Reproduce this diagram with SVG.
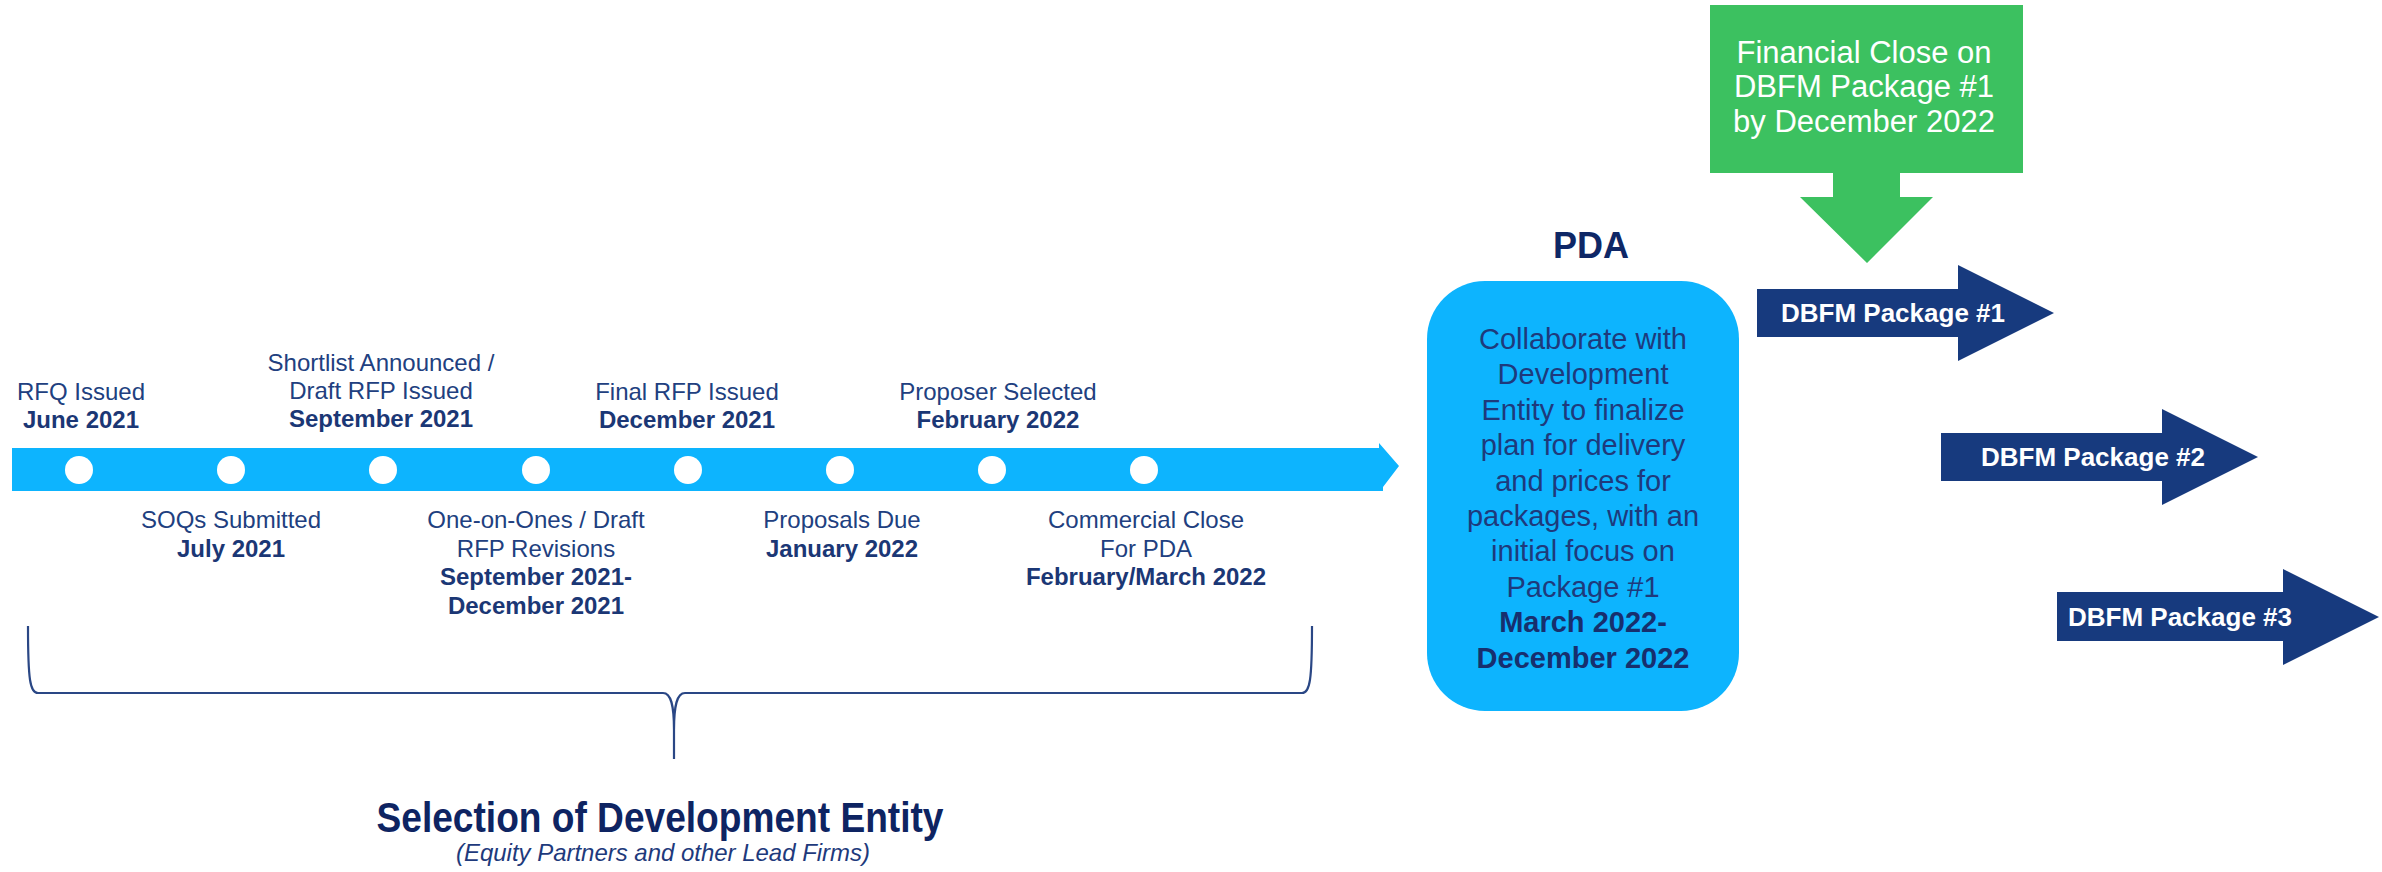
<svg xmlns="http://www.w3.org/2000/svg" width="2382" height="872" viewBox="0 0 2382 872">
<style>
text{font-family:"Liberation Sans",Arial,sans-serif}
.t{font-size:24px;fill:#213F80;text-anchor:middle}
.b{font-size:24px;font-weight:bold;fill:#1B3775;text-anchor:middle}
.p{font-size:29px;fill:#1E3A7C;text-anchor:middle}
.pb{font-size:29px;font-weight:bold;fill:#172F6E;text-anchor:middle}
.w{font-size:31px;fill:#FFFFFF;text-anchor:middle}
.wb{font-size:26px;font-weight:bold;fill:#FFFFFF;text-anchor:middle}
.dot{fill:#FFFFFF}
.arr{fill:#173A7E}
</style>
<rect width="2382" height="872" fill="#FFFFFF"/>
<g id="timeline">
<polygon points="12,448 1379,448 1379,443 1399,466 1383,487 1383,491 12,491" fill="#0DB4FE"/>
<circle class="dot" cx="79" cy="470" r="14"/>
<circle class="dot" cx="231" cy="470" r="14"/>
<circle class="dot" cx="383" cy="470" r="14"/>
<circle class="dot" cx="536" cy="470" r="14"/>
<circle class="dot" cx="688" cy="470" r="14"/>
<circle class="dot" cx="840" cy="470" r="14"/>
<circle class="dot" cx="992" cy="470" r="14"/>
<circle class="dot" cx="1144" cy="470" r="14"/>
</g>
<g id="rfq-issued"><text class="t" x="81" y="400">RFQ Issued</text><text class="b" x="81" y="428">June 2021</text></g>
<g id="soqs-submitted"><text class="t" x="231" y="528">SOQs Submitted</text><text class="b" x="231" y="557">July 2021</text></g>
<g id="shortlist"><text class="t" x="381" y="371">Shortlist Announced /</text><text class="t" x="381" y="399">Draft RFP Issued</text><text class="b" x="381" y="427">September 2021</text></g>
<g id="one-on-ones"><text class="t" x="536" y="528">One-on-Ones / Draft</text><text class="t" x="536" y="557">RFP Revisions</text><text class="b" x="536" y="585">September 2021-</text><text class="b" x="536" y="614">December 2021</text></g>
<g id="final-rfp"><text class="t" x="687" y="400">Final RFP Issued</text><text class="b" x="687" y="428">December 2021</text></g>
<g id="proposals-due"><text class="t" x="842" y="528">Proposals Due</text><text class="b" x="842" y="557">January 2022</text></g>
<g id="proposer-selected"><text class="t" x="998" y="400">Proposer Selected</text><text class="b" x="998" y="428">February 2022</text></g>
<g id="commercial-close"><text class="t" x="1146" y="528">Commercial Close</text><text class="t" x="1146" y="557">For PDA</text><text class="b" x="1146" y="585">February/March 2022</text></g>
<g id="connectors">
<path d="M28,626 C28,680 30,693 38,693 L663,693 C671,693 674,705 674,730 L674,759 M674,730 C674,705 677,693 685,693 L1302,693 C1310,693 1312,680 1312,626" fill="none" stroke="#2A4785" stroke-width="2.2"/>
</g>
<g id="selection">
<text x="660" y="832" font-size="42" font-weight="bold" fill="#0E2462" text-anchor="middle" textLength="567" lengthAdjust="spacingAndGlyphs">Selection of Development Entity</text>
<text x="663" y="861" font-size="24" font-style="italic" fill="#1E3A7C" text-anchor="middle" textLength="414" lengthAdjust="spacingAndGlyphs">(Equity Partners and other Lead Firms)</text>
</g>
<g id="pda">
<text x="1591" y="258" font-size="36" font-weight="bold" fill="#0E2766" text-anchor="middle">PDA</text>
<rect x="1427" y="281" width="312" height="430" rx="58" fill="#0DB4FE"/>
<text class="p" x="1583" y="349">Collaborate with</text>
<text class="p" x="1583" y="384">Development</text>
<text class="p" x="1583" y="420">Entity to finalize</text>
<text class="p" x="1583" y="455">plan for delivery</text>
<text class="p" x="1583" y="491">and prices for</text>
<text class="p" x="1583" y="526">packages, with an</text>
<text class="p" x="1583" y="561">initial focus on</text>
<text class="p" x="1583" y="597">Package #1</text>
<text class="pb" x="1583" y="632">March 2022-</text>
<text class="pb" x="1583" y="668">December 2022</text>
</g>
<g id="financial-close">
<polygon points="1710,5 2023,5 2023,173 1900,173 1900,197 1933,197 1867,263 1800,197 1833,197 1833,173 1710,173" fill="#3CC160"/>
<text class="w" x="1864" y="63">Financial Close on</text>
<text class="w" x="1864" y="97">DBFM Package #1</text>
<text class="w" x="1864" y="132">by December 2022</text>
</g>
<g id="package-1">
<polygon class="arr" points="1757,289 1958,289 1958,265 2054,313 1958,361 1958,337 1757,337"/>
<text class="wb" x="1893" y="322">DBFM Package #1</text>
</g>
<g id="package-2">
<polygon class="arr" points="1941,433 2162,433 2162,409 2258,457 2162,505 2162,481 1941,481"/>
<text class="wb" x="2093" y="466">DBFM Package #2</text>
</g>
<g id="package-3">
<polygon class="arr" points="2057,592 2283,592 2283,569 2379,617 2283,665 2283,641 2057,641"/>
<text class="wb" x="2180" y="626">DBFM Package #3</text>
</g>
</svg>
